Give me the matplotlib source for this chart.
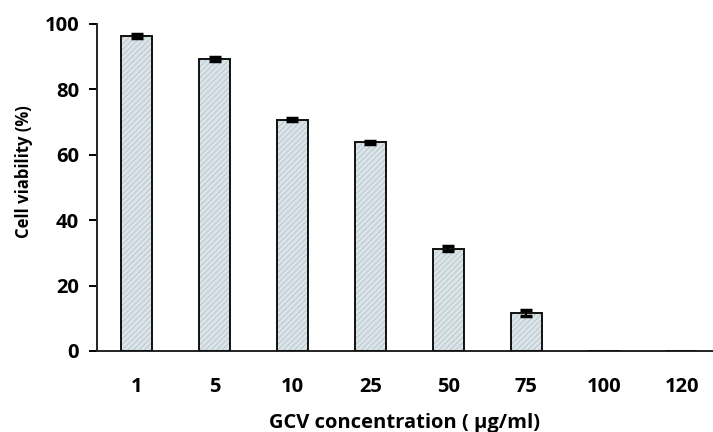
import numpy as np
import matplotlib
matplotlib.use('Agg')
import matplotlib.pyplot as plt

plt.rcParams['font.family'] = ['Open Sans', 'DejaVu Sans']
plt.rcParams['hatch.linewidth'] = 0.6

# data
conc = ['1', '5', '10', '25', '50', '75', '100', '120']
viability = [96.3, 89.3, 70.7, 63.8, 31.3, 11.6, 0, 0]
err = [0.6, 0.6, 0.4, 0.5, 0.7, 0.8, 0, 0]

fig = plt.figure(figsize=(7.13, 4.32), dpi=100)
ax = fig.add_axes([0.136, 0.1875, 0.864, 0.757])

x = np.arange(len(conc))
# hatched fill first, then the black outline on top
ax.bar(x, viability, width=0.4, color='#dbe5e9', edgecolor='#b4c2c8',
       hatch='//////', linewidth=0, zorder=2)
ax.bar(x, viability, width=0.4, fill=False, edgecolor='#111111',
       linewidth=1.4, zorder=3)
# caps only where there is a bar
has = [i for i in range(len(conc)) if viability[i] > 0]
ax.errorbar([x[i] for i in has], [viability[i] for i in has],
            yerr=[err[i] for i in has], fmt='none', ecolor='black',
            elinewidth=1.5, capsize=4, capthick=2.5, zorder=4)

ax.set_xlim(-0.51, 7.4)
ax.set_ylim(0, 100)
ax.set_yticks([0, 20, 40, 60, 80, 100])
ax.set_xticks(x)
ax.set_xticklabels(conc)

for s in ['top', 'right']:
    ax.spines[s].set_visible(False)
for s in ['left', 'bottom']:
    ax.spines[s].set_linewidth(1.4)
    ax.spines[s].set_color('#222222')

ax.tick_params(axis='y', direction='out', length=6, width=1.4, labelsize=14.5, pad=7)
ax.tick_params(axis='x', length=0, labelsize=14.5, pad=19)
for lab in ax.get_xticklabels() + ax.get_yticklabels():
    lab.set_fontweight('bold')

ax.set_ylabel('Cell viability (%)', fontsize=12, fontweight='bold')
ax.yaxis.set_label_coords(-0.104, 0.547)
ax.set_xlabel('GCV concentration ( µg/ml)', fontsize=14.5, fontweight='bold', labelpad=11)

fig.savefig('out.png', dpi=100)
